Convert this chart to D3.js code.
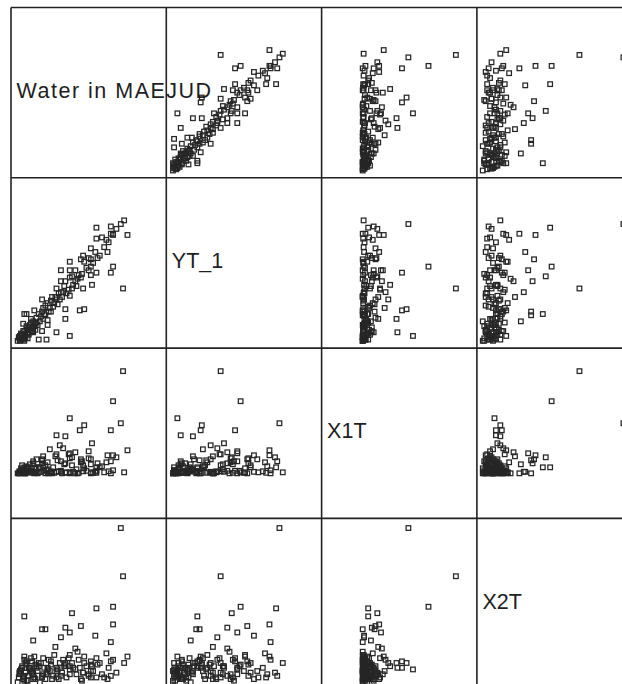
<!DOCTYPE html>
<html>
<head>
<meta charset="utf-8">
<script src="https://cdn.jsdelivr.net/npm/d3@7"></script>
<style>
  html, body { margin: 0; padding: 0; background: #fff; }
  svg { display: block; }
</style>
</head>
<body>
<script>
// Variables shown on the diagonal of the scatterplot matrix
const varNames = ["Water in MAEJUD", "YT_1", "X1T", "X2T"];

// One value per observation, in the same order for every variable
const water = [
  99, 101, 92, 90, 53, 41, 49, 62, 66, 73,
  105, 102, 95, 92, 90, 90, 87, 88, 82, 77,
  77, 78, 76, 72, 72, 66, 65, 77, 72, 70,
  72, 12, 55, 92, 28, 31, 49, 53, 63, 45,
  20, 40, 58, 65, 63, 61, 58, 53, 53, 45,
  45, 55, 53, 47, 41, 41, 49, 33, 36, 33,
  37, 29, 25, 28, 32, 25, 33, 28, 22, 18,
  21, 20, 16, 14, 11, 10, 12, 7.5, 12, 11,
  6, 8, 9, 13, 15, 14, 17, 19, 18, 21,
  23, 24, 26, 27, 29, 30, 31, 34, 35, 36,
  38, 39, 42, 43, 44, 46, 48, 50, 52, 56,
  59, 60, 64, 68, 70, 74, 80, 84, 86, 7,
  9, 10, 11, 13, 14, 16, 17, 19, 20, 22, 23, 8, 12, 15
];
const yt1 = [
  102, 49, 67, 62, 10, 13, 24, 31, 32, 52,
  93, 105, 98, 94, 100, 94, 79, 87, 91, 90,
  99, 74, 79, 82, 73, 71, 76, 62, 60, 64,
  67, 28, 59, 93, 30, 27, 55, 64, 73, 46,
  22, 42, 55, 49, 58, 60, 64, 58, 71, 64,
  55, 49, 43, 46, 40, 49, 32, 23, 30, 37,
  42, 33, 28, 40, 7, 7, 19, 14, 20, 24,
  31, 13, 17, 28, 7, 11, 6, 8, 14, 20,
  6, 10, 7, 11, 12, 18, 13, 16, 21, 18,
  25, 19, 22, 26, 24, 28, 35, 30, 33, 39,
  34, 37, 36, 45, 40, 42, 51, 45, 48, 52,
  51, 57, 61, 66, 74, 70, 76, 83, 89, 9,
  12, 8, 14, 9, 15, 11, 19, 14, 17, 15, 21, 6, 10, 8
];
const x1t = [
  50, 102, 72, 43, 55, 38, 37, 43, 48, 30,
  23, 1, 16, 3, 12, 0, 18, 2, 7, 0.5,
  6, 10, 1.5, 14, 0, 5, 8, 2.5, 9, 22,
  1, 6, 16, 18, 13, 0, 10, 20, 14, 1.5,
  9, 17, 21, 2, 11, 0.5, 0, 15, 1, 12,
  2.5, 8, 0, 25, 1.5, 19, 0.5, 4, 2, 11,
  0, 7, 1, 14, 3, 6, 0.5, 10, 1.5, 3,
  0, 12, 2, 5, 1, 8, 0, 2, 0.5, 4,
  0, 1.5, 3, 0, 6, 1, 9, 2, 2, 0.5,
  14, 0, 5, 1.5, 17, 2.5, 8, 0, 24, 1,
  6, 0.5, 13, 2, 28, 0, 9, 1, 19, 1.5,
  4, 0, 12, 2.5, 15, 0.5, 6, 1, 11, 0,
  5, 1.5, 1, 0, 7, 2, 2, 0.5, 10, 1, 6, 0, 1.5, 3
];
const x2t = [
  96, 66, 47, 13, 8, 9, 12, 9, 12, 10,
  16, 12, 6, 14, 4, 25, 2, 9, 5, 3,
  46, 11, 29, 7, 13, 16, 6, 15, 3, 5,
  11, 41, 43, 36, 33, 33, 34, 31, 35, 28,
  26, 22, 21, 6, 2, 14, 8, 5, 17, 9,
  4, 12, 10, 14, 7, 3, 11, 6, 13, 9,
  2, 15, 10, 4, 5, 12, 8, 3, 11, 7,
  16, 2, 9, 13, 4, 10, 1, 6, 14, 3,
  0, 5, 8, 12, 4, 1, 9, 6, 15, 3,
  10, 7, 0, 12, 5, 9, 2, 14, 7, 11,
  4, 17, 8, 2, 12, 6, 10, 3, 15, 9,
  5, 19, 1, 10, 4, 7, 12, 3, 18, 3,
  7, 9, 2, 6, 11, 4, 8, 13, 5, 2, 9, 7, 16, 1
];

// Axis range of each variable inside a cell
const waterRange = [0, 140];
const yt1Range = [0, 140];
const x1tRange = [-45, 125];
const x2tRange = [-4, 102];

const series = [water, yt1, x1t, x2t];
const ranges = [waterRange, yt1Range, x1tRange, x2tRange];

const W = 622, H = 684;
const gridLeft = 11, gridTop = 7.5;
const cellW = 155.3, cellH = 170.3;
const n = varNames.length;
const nObs = water.length;

const svg = d3.select("body").append("svg")
  .attr("width", W).attr("height", H);

const xScales = ranges.map(r => d3.scaleLinear().domain(r).range([0, cellW]));
const yScales = ranges.map(r => d3.scaleLinear().domain(r).range([cellH, 0]));

const side = 4.6;
const plot = svg.append("g");

for (let i = 0; i < n; i++) {
  for (let j = 0; j < n; j++) {
    if (i === j) continue;
    const g = plot.append("g")
      .attr("transform", `translate(${gridLeft + j * cellW},${gridTop + i * cellH})`);
    const pts = d3.range(nObs).map(k => ({ x: series[j][k], y: series[i][k] }));
    g.selectAll("rect")
      .data(pts)
      .join("rect")
      .attr("x", d => xScales[j](d.x) - side / 2)
      .attr("y", d => yScales[i](d.y) - side / 2)
      .attr("width", side)
      .attr("height", side)
      .attr("fill", "none")
      .attr("stroke", "#262626")
      .attr("stroke-width", 1.25);
  }
}

// Variable names on the diagonal
svg.append("g")
  .selectAll("text")
  .data(varNames)
  .join("text")
  .attr("x", (d, i) => gridLeft + i * cellW + 5.5)
  .attr("y", (d, i) => gridTop + i * cellH + cellH / 2 + 5)
  .attr("font-family", "'Liberation Sans', Arial, sans-serif")
  .attr("font-size", 21.5)
  .attr("letter-spacing", (d, i) => i === 0 ? 1.5 : 0)
  .attr("fill", "#1e1e1e")
  .style("white-space", "pre")
  .text(d => d);

// Cell borders
const grid = svg.append("g")
  .attr("stroke", "#222")
  .attr("stroke-width", 1.6)
  .attr("fill", "none");
for (let k = 0; k <= n; k++) {
  grid.append("line")
    .attr("x1", gridLeft + k * cellW).attr("x2", gridLeft + k * cellW)
    .attr("y1", gridTop).attr("y2", gridTop + n * cellH);
  grid.append("line")
    .attr("x1", gridLeft).attr("x2", gridLeft + n * cellW)
    .attr("y1", gridTop + k * cellH).attr("y2", gridTop + k * cellH);
}
</script>
</body>
</html>
